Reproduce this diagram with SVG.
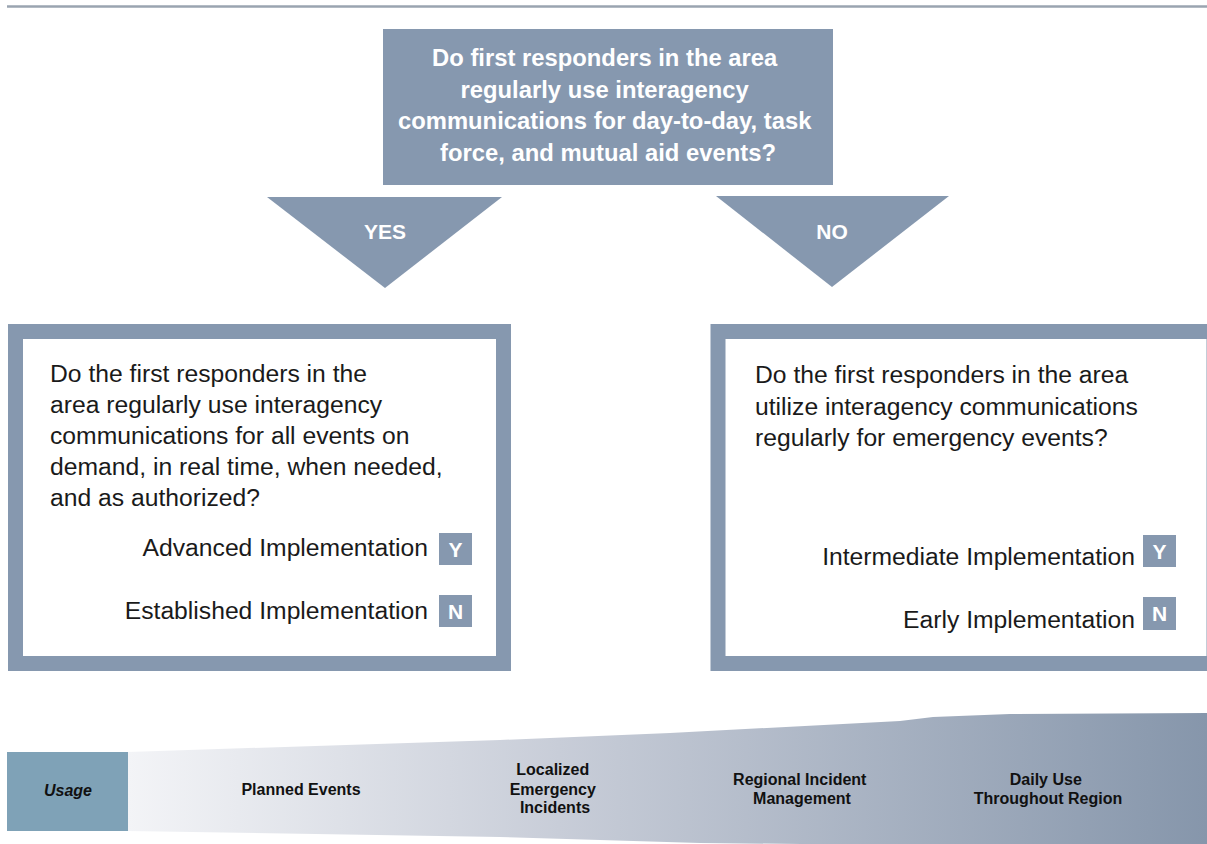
<svg xmlns="http://www.w3.org/2000/svg" width="1207" height="844" viewBox="0 0 1207 844">
<defs>
<linearGradient id="band" x1="128" y1="0" x2="1207" y2="0" gradientUnits="userSpaceOnUse">
<stop offset="0" stop-color="#f3f4f7"/>
<stop offset="0.4" stop-color="#c8cdd8"/>
<stop offset="1" stop-color="#8696ab"/>
</linearGradient>
<style>
.fill{fill:#8698af}
.hd{font-family:"Liberation Sans",Arial,sans-serif;font-weight:bold;fill:#ffffff}
.bd{font-family:"Liberation Sans",Arial,sans-serif;font-size:24.7px;fill:#1a1a1a}
.yn{font-family:"Liberation Sans",Arial,sans-serif;font-weight:bold;font-size:21px;fill:#ffffff;text-anchor:middle}
.bl{font-family:"Liberation Sans",Arial,sans-serif;font-weight:bold;font-size:16px;fill:#111111;text-anchor:middle}
</style>
</defs>
<rect width="1207" height="844" fill="#ffffff"/>
<line x1="7" y1="6.5" x2="1207" y2="6.5" stroke="#9aa4b0" stroke-width="2.5"/>

<g id="question-top">
<rect class="fill" x="383" y="29" width="450" height="156"/>
<text class="hd" font-size="23.8" text-anchor="middle">
<tspan x="608" y="66">Do first responders in the area</tspan>
<tspan x="608" y="98">regularly use interagency</tspan>
<tspan x="608" y="129">communications for day-to-day, task</tspan>
<tspan x="608" y="161">force, and mutual aid events?</tspan>
</text>
</g>

<g id="connectors">
<g id="yes-arrow">
<polygon class="fill" points="267,197 502,197 385,288"/>
<text class="hd" font-size="21" text-anchor="middle" x="385" y="239">YES</text>
</g>
<g id="no-arrow">
<polygon class="fill" points="716,196 949,196 832,287"/>
<text class="hd" font-size="21" text-anchor="middle" x="832" y="239">NO</text>
</g>
</g>

<g id="yes-box">
<rect x="15.5" y="331.5" width="488" height="332" fill="#ffffff" stroke="#8698af" stroke-width="15"/>
<text class="bd">
<tspan x="50" y="382">Do the first responders in the</tspan>
<tspan x="50" y="413">area regularly use interagency</tspan>
<tspan x="50" y="444">communications for all events on</tspan>
<tspan x="50" y="475">demand, in real time, when needed,</tspan>
<tspan x="50" y="506">and as authorized?</tspan>
</text>
<text class="bd" text-anchor="end" x="428" y="556">Advanced Implementation</text>
<rect class="fill" x="439" y="533" width="33" height="32"/>
<text class="yn" x="455.5" y="557">Y</text>
<text class="bd" text-anchor="end" x="428" y="619">Established Implementation</text>
<rect class="fill" x="439" y="595" width="33" height="32"/>
<text class="yn" x="455.5" y="619">N</text>
</g>

<g id="no-box">
<rect x="718" y="331.5" width="496" height="332" fill="#ffffff" stroke="#8698af" stroke-width="15"/>
<text class="bd">
<tspan x="755" y="383">Do the first responders in the area</tspan>
<tspan x="755" y="415">utilize interagency communications</tspan>
<tspan x="755" y="446">regularly for emergency events?</tspan>
</text>
<text class="bd" text-anchor="end" x="1135" y="565">Intermediate Implementation</text>
<rect class="fill" x="1143" y="535" width="33" height="32"/>
<text class="yn" x="1159.5" y="559">Y</text>
<text class="bd" text-anchor="end" x="1135" y="628">Early Implementation</text>
<rect class="fill" x="1143" y="597" width="33" height="33"/>
<text class="yn" x="1159.5" y="621">N</text>
</g>

<g id="usage-band">
<path d="M128,752 L500,740 L670,733 L900,721 L933,717 L1010,714 L1207,713 L1207,848 L700,843 L500,837 L128,831 Z" fill="url(#band)"/>
<rect x="7" y="752" width="121" height="79" fill="#7fa2b7"/>
<text class="bl" font-style="italic" x="68" y="796">Usage</text>
<text class="bl" x="301" y="795">Planned Events</text>
<text class="bl">
<tspan x="555" y="775">Localized</tspan>
<tspan x="555" y="795">Emergency</tspan>
<tspan x="555" y="813">Incidents</tspan>
</text>
<text class="bl">
<tspan x="802" y="785">Regional Incident</tspan>
<tspan x="802" y="804">Management</tspan>
</text>
<text class="bl">
<tspan x="1048" y="785">Daily Use</tspan>
<tspan x="1048" y="804">Throughout Region</tspan>
</text>
</g>
</svg>
